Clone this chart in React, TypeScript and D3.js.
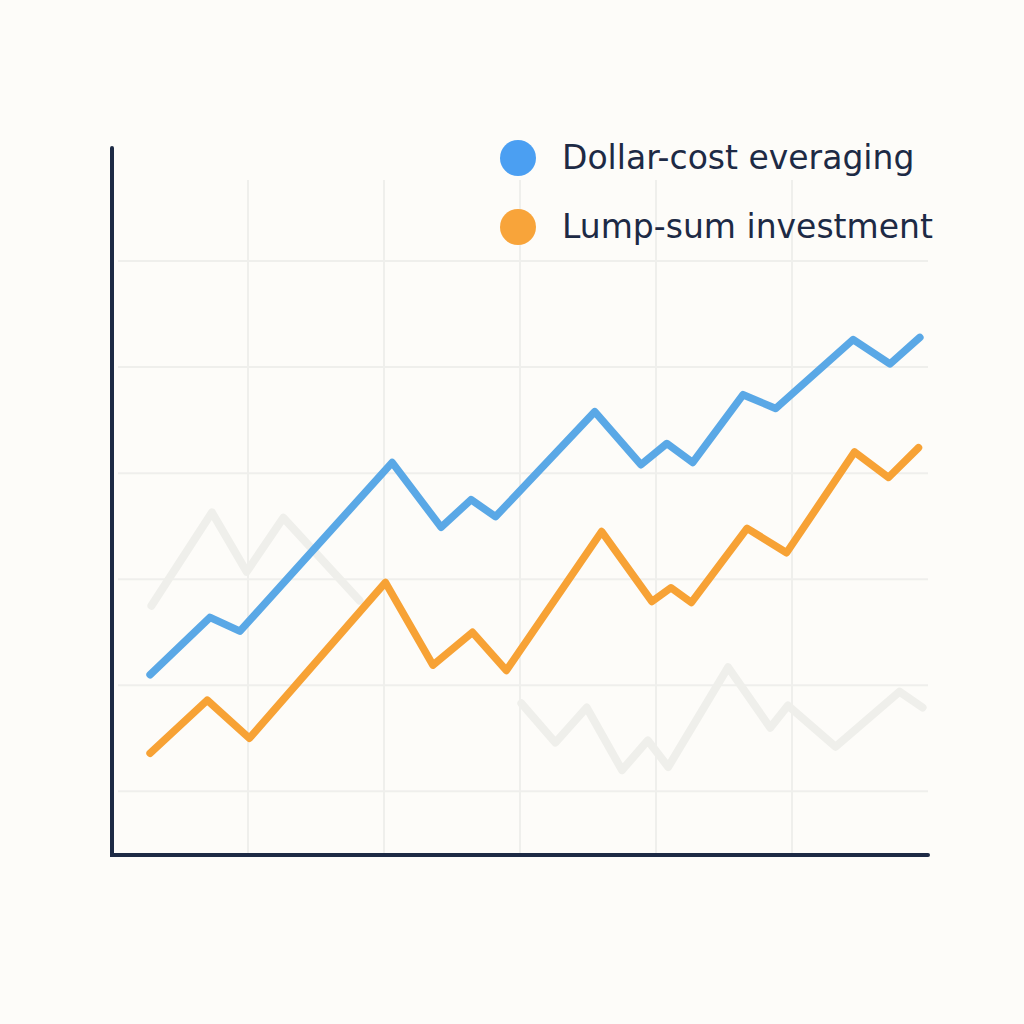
import { useEffect, useRef } from "react"
import * as d3 from "d3"

// x in years (0..6), y in $k
const dcaX = [0.28, 0.72, 0.94, 2.06, 2.42, 2.64, 2.82, 3.55, 3.89, 4.08, 4.27, 4.64, 4.88, 5.45, 5.72, 5.94]
const dcaY = [21.0, 26.4, 25.1, 41.0, 34.9, 37.5, 35.9, 45.8, 40.8, 42.8, 41.0, 47.4, 46.1, 52.6, 50.3, 52.8]

const lumpX = [0.28, 0.7, 1.01, 2.01, 2.36, 2.65, 2.9, 3.6, 3.97, 4.11, 4.26, 4.67, 4.96, 5.46, 5.71, 5.93]
const lumpY = [13.6, 18.6, 15.0, 29.7, 21.9, 25.0, 21.4, 34.5, 27.9, 29.2, 27.8, 34.8, 32.5, 42.0, 39.6, 42.4]

// faded background series (null = gap)
const ghostX = [0.29, 0.735, 0.99, 1.26, 1.82, 2.4, 3.01, 3.26, 3.49, 3.75, 3.94, 4.09, 4.53, 4.84, 4.97, 5.32, 5.79, 5.96]
const ghostY: (number | null)[] = [27.5, 36.3, 30.7, 35.8, 28.0, null, 18.3, 14.6, 17.9, 12.0, 14.8, 12.3, 21.7, 16.0, 18.1, 14.2, 19.4, 17.9]

const xTicks = [1, 2, 3, 4, 5]
const yTicks = [10, 20, 30, 40, 50, 60]

const seriesNames = ["Dollar-cost everaging", "Lump-sum investment"]
const seriesColors = ["#5aa8e6", "#f7a235"]
const legendDots = ["#4b9ff2", "#f8a43a"]

export default function App() {
  const svgRef = useRef<SVGSVGElement>(null)

  useEffect(() => {
    if (!svgRef.current) return
    const svg = d3.select(svgRef.current)
    svg.selectAll("*").remove()

    const width = 1024
    const height = 1024
    const left = 112
    const right = 928
    const bottom = 855
    const top = 148

    svg.attr("width", width).attr("height", height)
    svg.append("rect").attr("width", width).attr("height", height).attr("fill", "#fdfcf9")

    const x = d3.scaleLinear().domain([0, 6]).range([left, right])
    const y = d3.scaleLinear().domain([4, 70]).range([bottom, 155])

    const grid = svg.append("g").attr("stroke", "#efefec").attr("stroke-width", 2)
    grid
      .selectAll(".vg")
      .data(xTicks)
      .enter()
      .append("line")
      .attr("x1", (d) => x(d))
      .attr("x2", (d) => x(d))
      .attr("y1", 180)
      .attr("y2", bottom)
    grid
      .selectAll(".hg")
      .data(yTicks)
      .enter()
      .append("line")
      .attr("x1", left + 6)
      .attr("x2", right)
      .attr("y1", (d) => y(d))
      .attr("y2", (d) => y(d))

    const ghost = ghostX.map((v, i) => [v, ghostY[i]] as [number, number | null])
    svg
      .append("path")
      .datum(ghost)
      .attr("fill", "none")
      .attr("stroke", "#efefeb")
      .attr("stroke-width", 8)
      .attr("stroke-linejoin", "round")
      .attr("stroke-linecap", "round")
      .attr(
        "d",
        d3
          .line<[number, number | null]>()
          .defined((d) => d[1] !== null)
          .x((d) => x(d[0]))
          .y((d) => y(d[1] as number))
      )

    const line = d3
      .line<[number, number]>()
      .x((d) => x(d[0]))
      .y((d) => y(d[1]))

    const series = [
      dcaX.map((v, i) => [v, dcaY[i]] as [number, number]),
      lumpX.map((v, i) => [v, lumpY[i]] as [number, number]),
    ]
    series.forEach((s, i) => {
      svg
        .append("path")
        .datum(s)
        .attr("fill", "none")
        .attr("stroke", seriesColors[i])
        .attr("stroke-width", 7.5)
        .attr("stroke-linejoin", "round")
        .attr("stroke-linecap", "round")
        .attr("d", line)
    })

    // axes
    svg
      .append("path")
      .attr("d", `M${left},${top} L${left},${bottom} L${right},${bottom}`)
      .attr("fill", "none")
      .attr("stroke", "#1d2a45")
      .attr("stroke-width", 4)
      .attr("stroke-linecap", "round")

    // legend
    const legend = svg.append("g")
    seriesNames.forEach((name, i) => {
      const cy = 158 + i * 69
      legend.append("circle").attr("cx", 518).attr("cy", cy).attr("r", 18).attr("fill", legendDots[i])
      legend
        .append("text")
        .attr("x", 562)
        .attr("y", cy + 11)
        .style("font-family", "'DejaVu Sans', Verdana, sans-serif")
        .style("font-size", "33px")
        .style("fill", "#1d2a45")
        .text(name)
    })
  }, [])

  return <svg ref={svgRef} style={{ position: "absolute", left: 0, top: 0 }}></svg>
}
